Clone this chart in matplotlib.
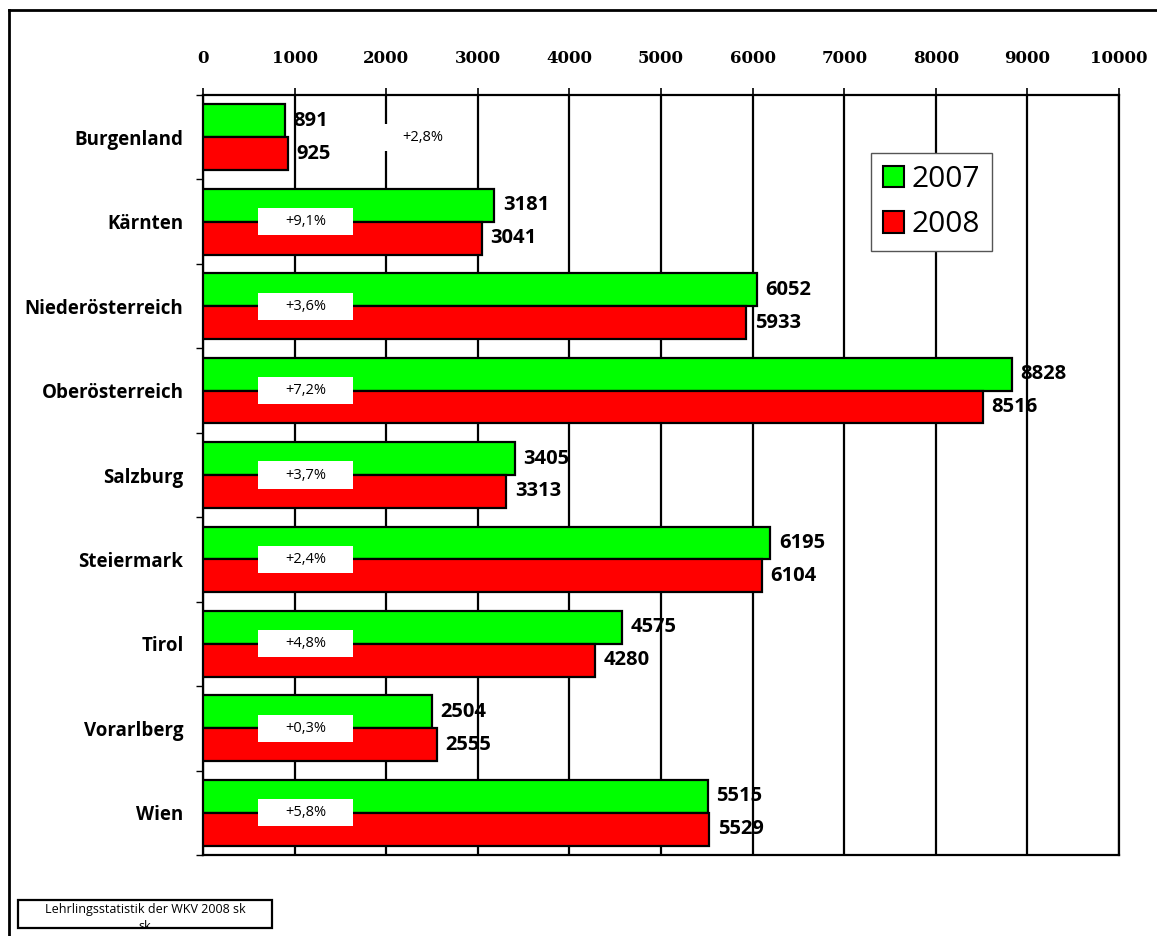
import matplotlib
matplotlib.use("Agg")
from matplotlib import pyplot as plt
from matplotlib.patches import Rectangle, Patch
from matplotlib.lines import Line2D

regions = ["Burgenland", "Kärnten", "Niederösterreich", "Oberösterreich", "Salzburg",
           "Steiermark", "Tirol", "Vorarlberg", "Wien"]
v2007 = [891, 3181, 6052, 8828, 3405, 6195, 4575, 2504, 5515]
v2008 = [925, 3041, 5933, 8516, 3313, 6104, 4280, 2555, 5529]
changes = ["+2,8%", "+9,1%", "+3,6%", "+7,2%", "+3,7%", "+2,4%", "+4,8%", "+0,3%", "+5,8%"]
change_x = [2400, 1120, 1120, 1120, 1120, 1120, 1120, 1120, 1120]
years = ["2007", "2008"]
xticks = list(range(0, 10001, 1000))

sans = ["Open Sans", "DejaVu Sans"]

fig = plt.figure(figsize=(11.57, 9.36), dpi=100)
ax = fig.add_axes([203 / 1157, 1 - 855 / 936, 916 / 1157, 760 / 936])

h = 0.39
y = list(range(len(regions)))
ax.barh([i - h / 2 for i in y], v2007, height=h, color="#00ff00", edgecolor="black",
        linewidth=1.6, zorder=3)
ax.barh([i + h / 2 for i in y], v2008, height=h, color="#ff0000", edgecolor="black",
        linewidth=1.6, zorder=3)

for i in y:
    ax.annotate(str(v2007[i]), (v2007[i], i - h / 2), xytext=(6, 0), textcoords="offset points",
                va="center", ha="left", fontsize=14.5, fontweight="bold", family=sans, zorder=5)
    ax.annotate(str(v2008[i]), (v2008[i], i + h / 2), xytext=(6, 0), textcoords="offset points",
                va="center", ha="left", fontsize=14.5, fontweight="bold", family=sans, zorder=5)
    bw, bh = 1037, 0.32
    ax.add_patch(Rectangle((change_x[i] - bw / 2, i - bh / 2), bw, bh, facecolor="white",
                           edgecolor="none", zorder=4))
    ax.text(change_x[i], i, changes[i], ha="center", va="center", fontsize=10.5,
            family=sans, zorder=5)

ax.set_xlim(0, 10000)
ax.set_ylim(len(regions) - 0.5, -0.5)
ax.xaxis.tick_top()
ax.set_xticks(xticks)
ax.set_xticklabels([str(t) for t in xticks], family="DejaVu Serif", fontweight="bold",
                   fontsize=12)
ax.tick_params(axis="x", direction="out", length=5, width=1.2, pad=15)
ax.set_yticks(y)
ax.set_yticklabels(regions, family=sans, fontweight="bold", fontsize=13.5)
ax.tick_params(axis="y", which="major", length=0, pad=14)
ax.set_yticks([i - 0.5 for i in range(len(regions) + 1)], minor=True)
ax.tick_params(axis="y", which="minor", direction="out", length=5, width=1)
ax.grid(axis="x", color="black", linewidth=1.6, zorder=1)
ax.set_axisbelow(True)
for s in ax.spines.values():
    s.set_linewidth(1.6)

handles = [Patch(facecolor="#00ff00", edgecolor="black", linewidth=1.5),
           Patch(facecolor="#ff0000", edgecolor="black", linewidth=1.5)]
leg = fig.legend(handles, years, loc="upper left", bbox_to_anchor=(871 / 1157, 1 - 153 / 936),
                 borderaxespad=0, handlelength=0.72, handleheight=0.72, handletextpad=0.25,
                 labelspacing=0.55, borderpad=0.4, fancybox=False, framealpha=1,
                 edgecolor="#555555", prop={"family": sans, "size": 21.5})
leg.get_frame().set_linewidth(1)

# outer frame (only left and top visible)
fig.add_artist(Line2D([9 / 1157, 9 / 1157], [0, 1 - 10 / 936], color="black", linewidth=2))
fig.add_artist(Line2D([9 / 1157, 1], [1 - 10 / 936, 1 - 10 / 936], color="black", linewidth=2))

# footer note box
box = Rectangle((18 / 1157, 1 - 928 / 936), 254 / 1157, 28 / 936, transform=fig.transFigure,
                facecolor="white", edgecolor="black", linewidth=1.6)
fig.add_artist(box)
t = fig.text(145 / 1157, 1 - 903 / 936, "Lehrlingsstatistik der WKV 2008 sk\nsk",
             ha="center", va="top", fontsize=9, family=sans, linespacing=1.45)
t.set_clip_path(box)

fig.savefig("out.png", dpi=100)
